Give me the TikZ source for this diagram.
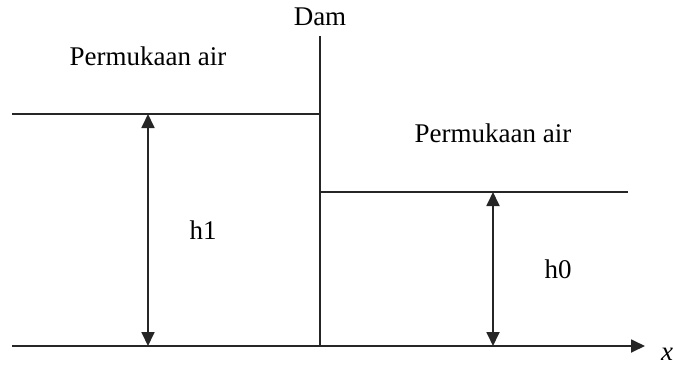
\documentclass[tikz,border=0pt]{standalone}
\usepackage{fontspec}
\setmainfont{Liberation Serif}
\usetikzlibrary{arrows.meta}
\begin{document}
\begin{tikzpicture}[x=1pt,y=-1pt,
  ln/.style={line width=1.8pt,draw=black!85},
  tip/.style={},
  dim/.style={ln,{Triangle[length=14pt,width=13pt]}-{Triangle[length=14pt,width=13pt]}},
  lbl/.style={inner sep=0pt,font=\fontsize{27}{31}\selectfont}]
\useasboundingbox (0,0) rectangle (673,367);
% points
\coordinate (damtop) at (320,36);
\coordinate (dambot) at (320,346);
\coordinate (lw0) at (12,114);
\coordinate (lw1) at (320,114);
\coordinate (rw1) at (628,192);
\coordinate (rw0) at (320,192);
\coordinate (b0) at (12,346);
\coordinate (b1) at (645,346);
\coordinate (h1t) at (148,114);
\coordinate (h1b) at (148,346);
\coordinate (h0t) at (493,192);
\coordinate (h0b) at (493,346);
% lines
\draw[ln] (damtop) -- (dambot);
\draw[ln] (lw0) -- (lw1);
\draw[ln] (rw0) -- (rw1);
\draw[ln,-{Triangle[length=14pt,width=13pt]}] (b0) -- (b1);
\draw[dim] (h1t) -- (h1b);
\draw[dim] (h0t) -- (h0b);
% labels
\node[lbl] (dam) at (320,17) {Dam};
\node[lbl] (pa1) at (148,56) {Permukaan air};
\node[lbl] (pa2) at (493,133) {Permukaan air};
\node[lbl] (h1) at (203,230) {h1};
\node[lbl] (h0) at (558,269) {h0};
\node[lbl] (xl) at (667,354) {\itshape x};
\end{tikzpicture}
\end{document}
